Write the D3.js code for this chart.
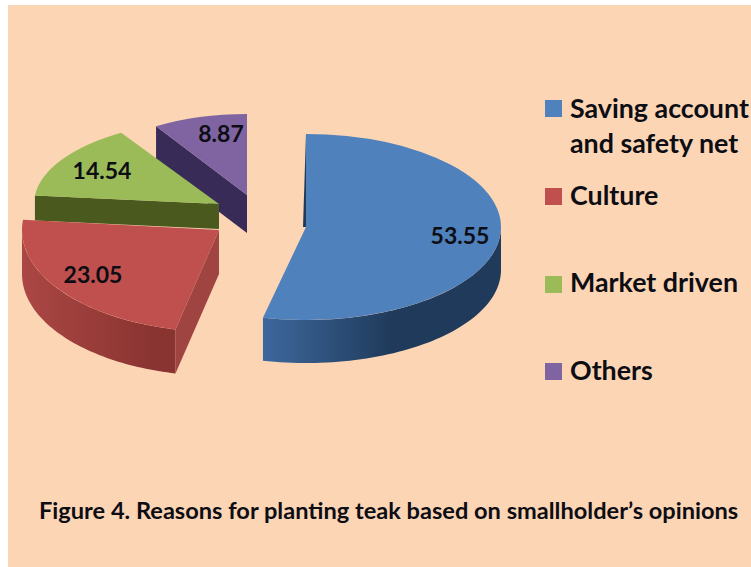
<!DOCTYPE html>
<html><head><meta charset="utf-8">
<script src="https://cdn.jsdelivr.net/npm/d3@7"></script>
<style>html,body{margin:0;padding:0;background:#fff}svg{display:block}
text{font-family:Lato,"Open Sans",sans-serif;font-weight:700;fill:#0d0d14}</style>
</head><body><svg id="c" width="751" height="567"></svg>
<script>
const categories = ["Saving account|and safety net", "Culture", "Market driven", "Others"];
const values = [53.55, 23.05, 14.54, 8.87];
const valueLabels = ["53.55", "23.05", "14.54", "8.87"];
const title = "Figure 4. Reasons for planting teak based on smallholder\u2019s opinions";

// appearance and layout, per slice
const topColors  = ["#4f81bd", "#c0504d", "#9bbb59", "#8064a2"];
const wallLight  = ["#3d689c", "#ab4744", "#4f5f20", "#3b2e5e"];
const wallDark   = ["#1f3a5a", "#8a3431", "#465519", "#332750"];
const cutColors  = ["#1f3a5a", "#a04441", "#4a5a1e", "#382b58"];
const centreX = [306, 219, 219, 247];
const centreY = [227, 230, 204, 195];
const radiusX = [195, 197, 185, 172];
const radiusY = [93, 102, 84, 81];
const depth   = [43, 44, 25, 38];
const labelX  = [460, 93, 102, 221];
const labelY  = [244, 283, 179, 142];
const legendY = [100, 188, 276, 363];
const legendBase = [118, 205, 292, 380];

const svg = d3.select("#c");
svg.append("rect").attr("x",8).attr("y",5).attr("width",743).attr("height",562).attr("fill","#fcd5b5");

const pie = d3.pie().sort(null)(values);
const R = 100;
const arcGen = d3.arc().innerRadius(0).outerRadius(R);
const defs = svg.append("defs");

// draw back to front
const order = [3, 2, 1, 0];
order.forEach(i => {
  const p = pie[i], cx = centreX[i], cy = centreY[i], rx = radiusX[i], ry = radiusY[i], d = depth[i];
  const px = a => cx + rx * Math.sin(a), py = a => cy - ry * Math.cos(a);
  const g = svg.append("g");

  // cut faces
  const face = a => [[px(a),py(a)],[cx,cy],[cx,cy+d],[px(a),py(a)+d]];
  const line = d3.line();
  if (i === 0) {
    g.append("path").attr("d", line([[px(p.startAngle),py(p.startAngle)],[cx,cy],[cx-3,cy]])+"Z").attr("fill",cutColors[i]);
  } else {
    g.append("path").attr("d", line(face(p.startAngle))+"Z").attr("fill",cutColors[i]);
  }

  // outer wall, visible only on the front half of the ellipse
  const a0 = Math.max(p.startAngle, Math.PI/2), a1 = Math.min(p.endAngle, Math.PI*1.5);
  if (a1 > a0) {
    const id = "w"+i;
    const grad = defs.append("linearGradient").attr("id",id).attr("gradientUnits","userSpaceOnUse")
      .attr("x1",px(a1)).attr("x2",px(a0)).attr("y1",0).attr("y2",0);
    grad.append("stop").attr("offset",0).attr("stop-color",wallLight[i]);
    grad.append("stop").attr("offset",i===1?0.85:0.55).attr("stop-color",wallDark[i]);
    grad.append("stop").attr("offset",1).attr("stop-color",wallDark[i]);
    const t = d3.scaleLinear().domain([0,60]).range([a0,a1]);
    const area = d3.area().x(k=>px(t(k))).y0(k=>py(t(k))).y1(k=>py(t(k))+d);
    g.append("path").attr("d",area(d3.range(0,61))).attr("fill",`url(#${id})`);
  }

  // top
  g.append("path").attr("d",arcGen(p))
   .attr("transform",`translate(${cx},${cy}) scale(${rx/R},${ry/R})`)
   .attr("fill",topColors[i]);

  svg.append("text").datum(i).attr("class","lab").attr("x",labelX[i]).attr("y",labelY[i])
    .attr("text-anchor","middle").attr("font-size",23).text(valueLabels[i]);
});
svg.selectAll("text.lab").raise();

// legend
categories.forEach((c,i)=>{
  svg.append("rect").attr("x",545).attr("y",legendY[i]).attr("width",17).attr("height",17).attr("fill",topColors[i]);
  c.split("|").forEach((s,j)=>{
    svg.append("text").attr("x",570).attr("y",legendBase[i]+j*35).attr("font-size",26.8).text(s);
  });
});

svg.append("text").attr("x",39).attr("y",519).attr("font-size",23.6).text(title);
</script></body></html>
